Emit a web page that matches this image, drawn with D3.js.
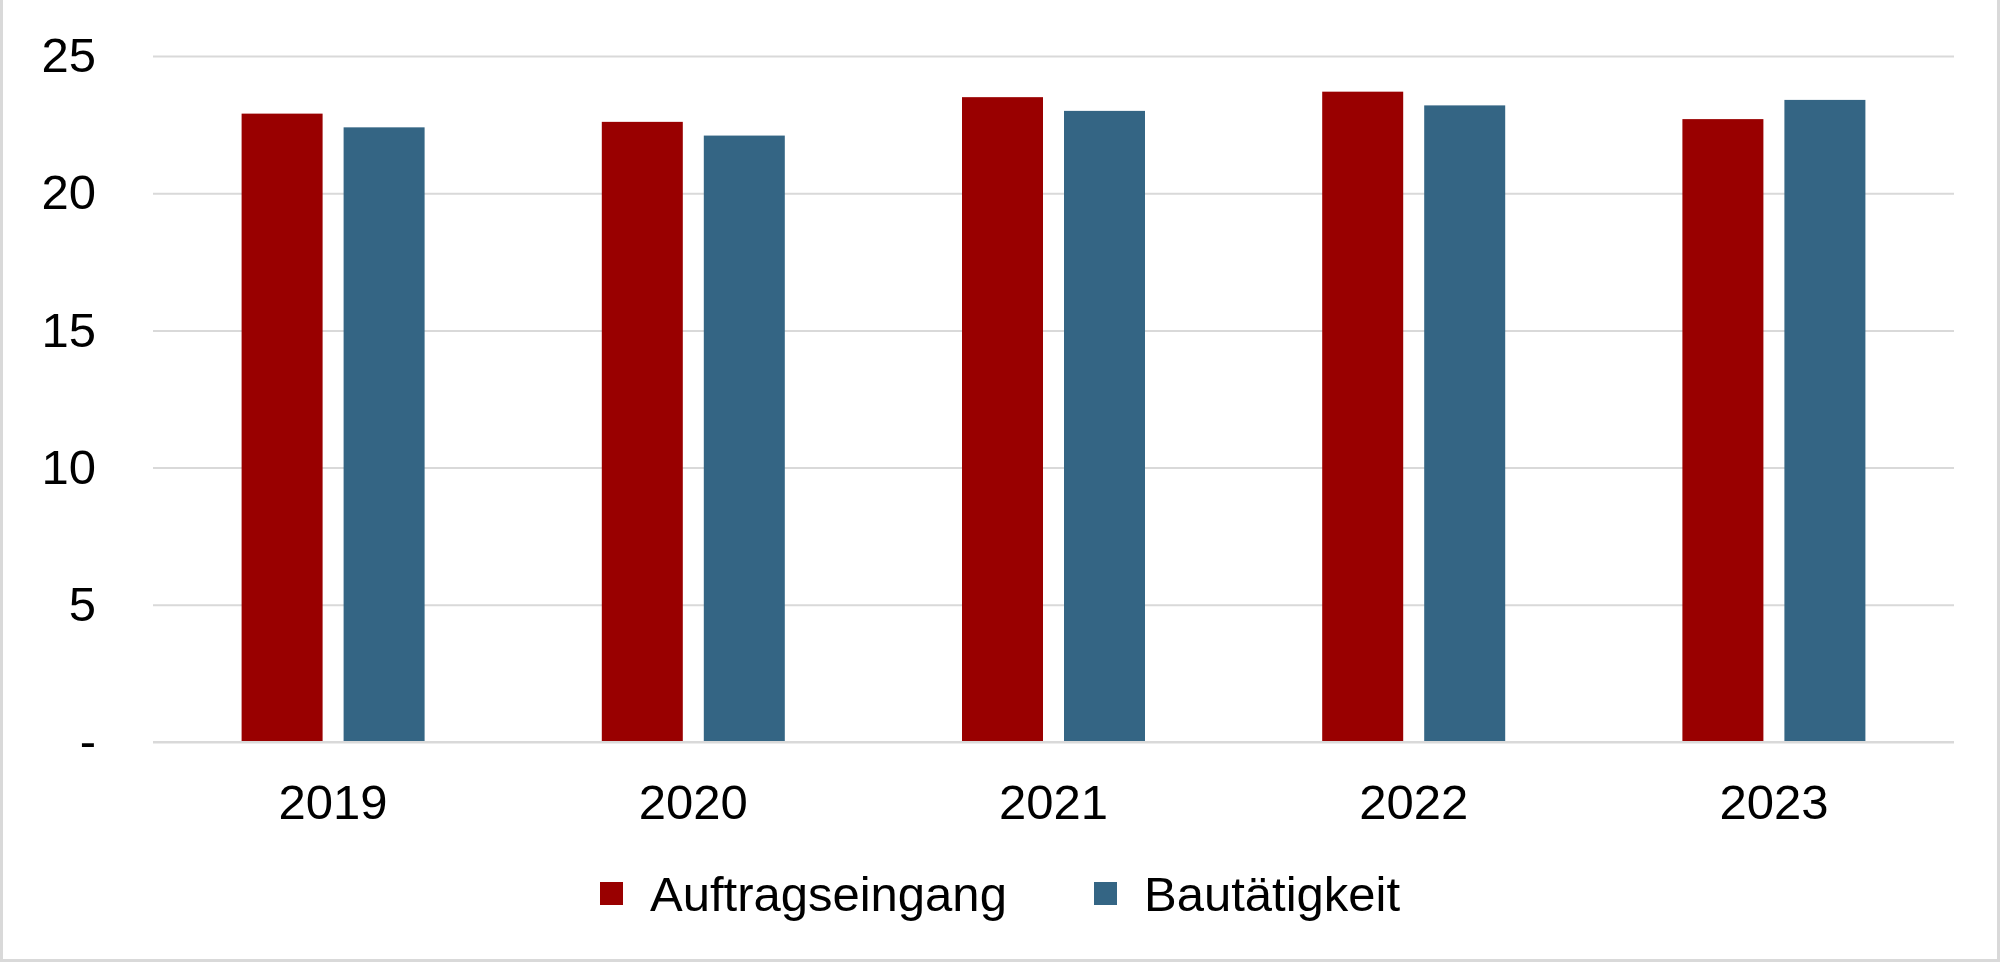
<!DOCTYPE html>
<html>
<head>
  <meta charset="utf-8">
  <title>Auftragseingang und Bautätigkeit</title>
  <script src="https://d3js.org/d3.v7.min.js"></script>
  <style>
    html, body { margin: 0; padding: 0; background: #fff; }
    svg { display: block; font-family: "Liberation Sans", Arial, sans-serif; }
  </style>
</head>
<body>
  <div id="chart"></div>

  <script>
    // values
    const years = ["2019", "2020", "2021", "2022", "2023"];
    const auftragseingang = [22.9, 22.6, 23.5, 23.7, 22.7];
    const bautaetigkeit = [22.4, 22.1, 23.0, 23.2, 23.4];
    const yTicks = [0, 5, 10, 15, 20, 25];
    const seriesNames = ["Auftragseingang", "Bautätigkeit"];
    const seriesColors = ["#990000", "#346584"];

    const W = 2000, H = 962;
    const plot = { left: 153, right: 1954, top: 56, bottom: 742 };
    const fontSize = 49;

    const svg = d3.select("#chart")
      .append("svg")
      .attr("width", W)
      .attr("height", H);

    // outer frame (top edge is cut off in the original)
    svg.append("rect")
      .attr("x", 1.5).attr("y", -10)
      .attr("width", W - 3).attr("height", H + 8.5)
      .attr("fill", "#fff")
      .attr("stroke", "#d9d9d9")
      .attr("stroke-width", 3);

    const x = d3.scaleBand()
      .domain(years)
      .range([plot.left, plot.right]);

    const y = d3.scaleLinear()
      .domain([0, 25])
      .range([plot.bottom, plot.top]);

    // gridlines + y labels
    const yAxis = svg.append("g")
      .attr("transform", "translate(" + plot.left + ",0)")
      .call(d3.axisLeft(y)
        .tickValues(yTicks)
        .tickSize(-(plot.right - plot.left))
        .tickPadding(57)
        .tickFormat(d => d === 0 ? "-" : d));
    yAxis.select(".domain").remove();
    yAxis.selectAll("line")
      .attr("stroke", "#d9d9d9")
      .attr("stroke-width", 2);
    yAxis.selectAll("text")
      .attr("font-size", fontSize)
      .attr("fill", "#000")
      .attr("font-family", "Liberation Sans, Arial, sans-serif");

    // bars
    const barW = 81, gap = 21;
    const series = [auftragseingang, bautaetigkeit];
    series.forEach((vals, si) => {
      svg.append("g").selectAll("rect")
        .data(years.map((yr, i) => ({ yr: yr, v: vals[i] })))
        .enter()
        .append("rect")
        .attr("x", d => x(d.yr) + x.bandwidth() / 2 + (si === 0 ? -(barW + gap / 2) : gap / 2))
        .attr("y", d => y(d.v))
        .attr("width", barW)
        .attr("height", d => y(0) - y(d.v))
        .attr("fill", seriesColors[si]);
    });

    // baseline drawn over bars
    svg.append("line")
      .attr("x1", plot.left).attr("x2", plot.right)
      .attr("y1", y(0)).attr("y2", y(0))
      .attr("stroke", "#d9d9d9")
      .attr("stroke-width", 2);

    // x labels
    const xAxis = svg.append("g")
      .attr("transform", "translate(0," + plot.bottom + ")")
      .call(d3.axisBottom(x).tickSize(0).tickPadding(42));
    xAxis.select(".domain").remove();
    xAxis.selectAll("text")
      .attr("font-size", fontSize)
      .attr("fill", "#000")
      .attr("font-family", "Liberation Sans, Arial, sans-serif");

    // legend
    const legendPos = [600, 1094];
    const legend = svg.append("g");
    seriesNames.forEach((name, i) => {
      legend.append("rect")
        .attr("x", legendPos[i]).attr("y", 882)
        .attr("width", 23).attr("height", 23)
        .attr("fill", seriesColors[i]);
      legend.append("text")
        .attr("x", legendPos[i] + 50)
        .attr("y", 911)
        .attr("font-size", fontSize)
        .attr("fill", "#000")
        .text(name);
    });
  </script>
</body>
</html>
